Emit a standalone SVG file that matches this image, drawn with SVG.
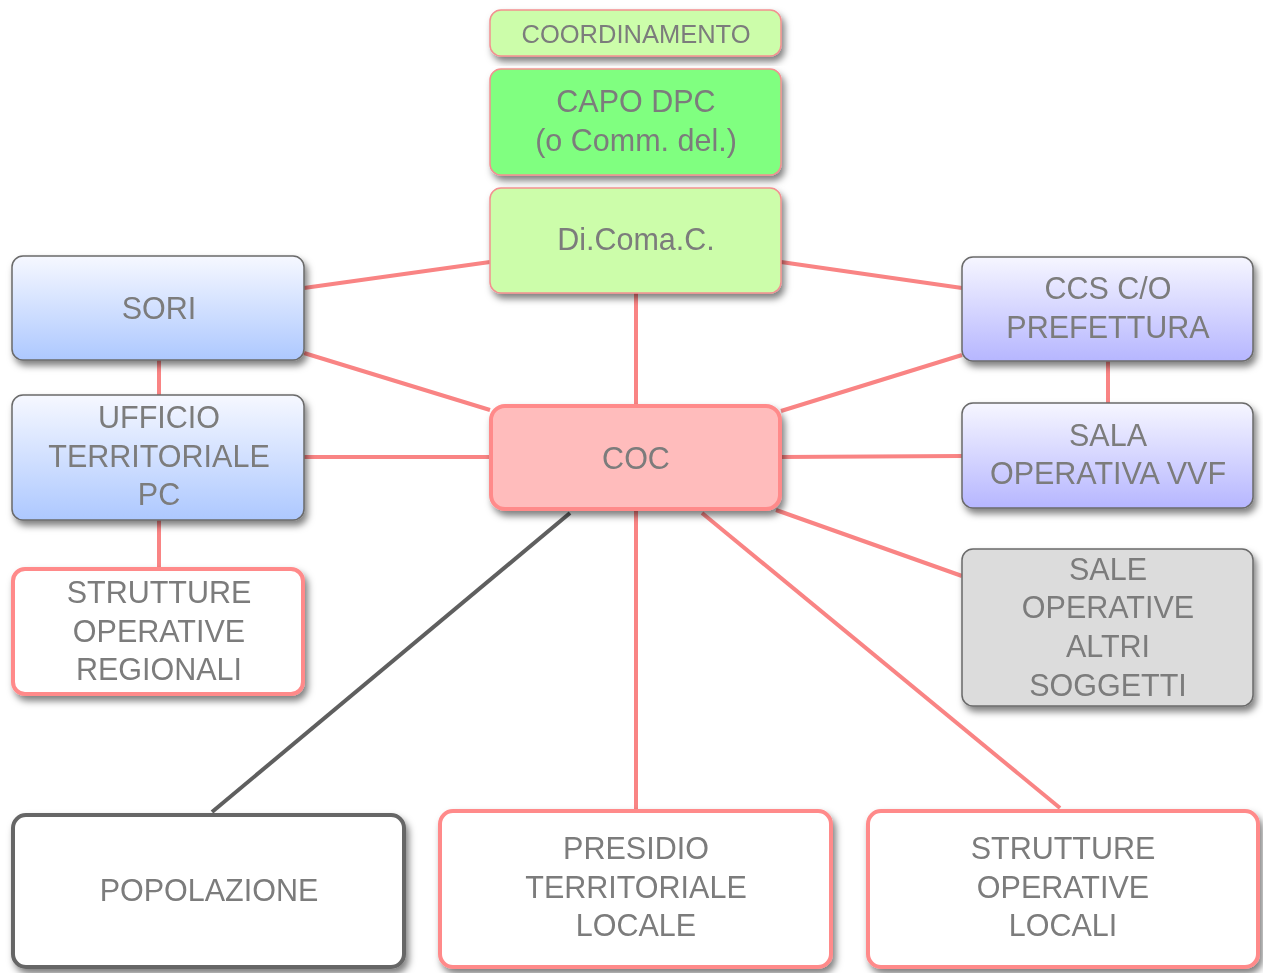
<svg xmlns="http://www.w3.org/2000/svg" width="1263" height="973" viewBox="0 0 1263 973">
<defs>
<linearGradient id="gBlue" x1="0" y1="0" x2="0" y2="1">
<stop offset="0" stop-color="#f6f8ff"/>
<stop offset="1" stop-color="#adc8ff"/>
</linearGradient>
<linearGradient id="gViolet" x1="0" y1="0" x2="0" y2="1">
<stop offset="0" stop-color="#f6f6ff"/>
<stop offset="1" stop-color="#b6b6ff"/>
</linearGradient>
<filter id="sh" x="-10%" y="-10%" width="125%" height="130%">
<feDropShadow dx="3" dy="5" stdDeviation="3.5" flood-color="#000" flood-opacity="0.5"/>
</filter>
</defs>
<style>
text{font-family:"Liberation Sans",Arial,Helvetica,sans-serif;font-size:30.5px;fill:#7b7b7b;text-anchor:middle}
.box{filter:url(#sh)}
.lg{fill:#ccfdaa;stroke:#f29090;stroke-width:1.5}
.g{fill:#80ff80;stroke:#f29090;stroke-width:1.5}
.bl{fill:url(#gBlue);stroke:#6a6a6a;stroke-width:1.5}
.vi{fill:url(#gViolet);stroke:#6a6a6a;stroke-width:1.5}
.gr{fill:#dcdcdc;stroke:#6a6a6a;stroke-width:1.5}
.pk{fill:#ffffff;stroke:#ff8a8a;stroke-width:4}
.coc{fill:#ffbcbc;stroke:#ff8a8a;stroke-width:4}
.dk{fill:#ffffff;stroke:#666666;stroke-width:4}
.c{stroke:#f98484;stroke-width:4;fill:none}
.cd{stroke:#5f5f5f;stroke-width:4;fill:none}
</style>
<g id="connectors">
<line class="c" x1="490" y1="262" x2="304" y2="288"/>
<line class="c" x1="781" y1="262" x2="962" y2="288"/>
<line class="c" x1="636" y1="293" x2="636" y2="405"/>
<line class="c" x1="304" y1="353" x2="490" y2="410"/>
<line class="c" x1="159" y1="360" x2="159" y2="395"/>
<line class="c" x1="304" y1="457" x2="490" y2="457"/>
<line class="c" x1="159" y1="520" x2="159" y2="568"/>
<line class="c" x1="781" y1="411" x2="962" y2="355"/>
<line class="c" x1="1108" y1="361" x2="1108" y2="403"/>
<line class="c" x1="781" y1="457" x2="962" y2="456"/>
<line class="c" x1="776" y1="510" x2="962" y2="576"/>
<line class="c" x1="636" y1="510" x2="636" y2="810"/>
<line class="c" x1="702" y1="513" x2="1060" y2="808"/>
<line class="cd" x1="570" y1="513" x2="212" y2="812"/>
</g>
<g id="coordinamento" class="box">
<rect class="lg" x="490" y="10" width="291" height="46" rx="11"/>
<text x="636" y="43" style="font-size:25.5px">COORDINAMENTO</text>
</g>
<g id="capo-dpc" class="box">
<rect class="g" x="490" y="69" width="291" height="106" rx="11"/>
<text x="636" y="112">CAPO DPC</text>
<text x="636" y="151">(o Comm. del.)</text>
</g>
<g id="dicomac" class="box">
<rect class="lg" x="490" y="188" width="291" height="105" rx="11"/>
<text x="636" y="250">Di.Coma.C.</text>
</g>
<g id="sori" class="box">
<rect class="bl" x="12" y="256" width="292" height="104" rx="11"/>
<text x="159" y="319">SORI</text>
</g>
<g id="ufficio" class="box">
<rect class="bl" x="12" y="395" width="292" height="125" rx="11"/>
<text x="159" y="428">UFFICIO</text>
<text x="159" y="467">TERRITORIALE</text>
<text x="159" y="505">PC</text>
</g>
<g id="strutture-regionali" class="box">
<rect class="pk" x="13" y="569" width="290" height="125" rx="12"/>
<text x="159" y="603">STRUTTURE</text>
<text x="159" y="642">OPERATIVE</text>
<text x="159" y="680">REGIONALI</text>
</g>
<g id="coc" class="box">
<rect class="coc" x="491" y="406" width="289" height="103" rx="14"/>
<text x="636" y="469">COC</text>
</g>
<g id="ccs" class="box">
<rect class="vi" x="962" y="257" width="291" height="104" rx="11"/>
<text x="1108" y="299">CCS C/O</text>
<text x="1108" y="338">PREFETTURA</text>
</g>
<g id="sala-vvf" class="box">
<rect class="vi" x="962" y="403" width="291" height="105" rx="11"/>
<text x="1108" y="446">SALA</text>
<text x="1108" y="484">OPERATIVA VVF</text>
</g>
<g id="sale-altri" class="box">
<rect class="gr" x="962" y="549" width="291" height="157" rx="11"/>
<text x="1108" y="580">SALE</text>
<text x="1108" y="618">OPERATIVE</text>
<text x="1108" y="657">ALTRI</text>
<text x="1108" y="696">SOGGETTI</text>
</g>
<g id="popolazione" class="box">
<rect class="dk" x="13" y="815" width="391" height="152" rx="13"/>
<text x="209" y="901">POPOLAZIONE</text>
</g>
<g id="presidio" class="box">
<rect class="pk" x="440" y="811" width="391" height="156" rx="13"/>
<text x="636" y="859">PRESIDIO</text>
<text x="636" y="898">TERRITORIALE</text>
<text x="636" y="936">LOCALE</text>
</g>
<g id="strutture-locali" class="box">
<rect class="pk" x="868" y="811" width="390" height="156" rx="13"/>
<text x="1063" y="859">STRUTTURE</text>
<text x="1063" y="898">OPERATIVE</text>
<text x="1063" y="936">LOCALI</text>
</g>
</svg>
